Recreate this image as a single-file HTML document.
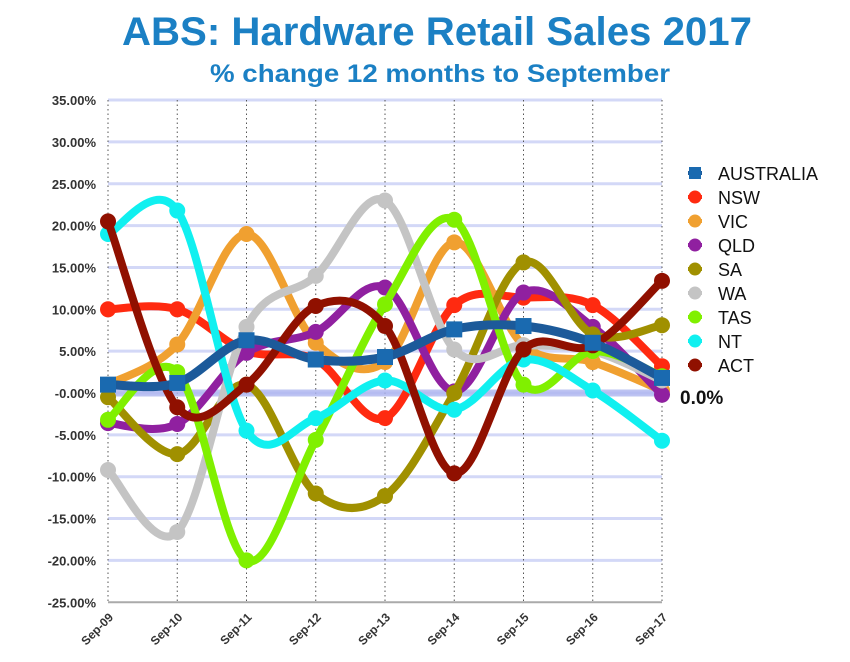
<!DOCTYPE html>
<html><head><meta charset="utf-8"><style>
body{margin:0;background:#fff;width:850px;height:662px;overflow:hidden}
svg{display:block;font-family:"Liberation Sans",sans-serif}
</style></head><body>
<svg id="s" width="850" height="662" xmlns="http://www.w3.org/2000/svg">
<text x="437" y="45" text-anchor="middle" font-size="40" font-weight="bold" fill="#1b80c4" textLength="630" lengthAdjust="spacingAndGlyphs">ABS: Hardware Retail Sales 2017</text>
<text x="440" y="82" text-anchor="middle" font-size="25" font-weight="bold" fill="#1b80c4" textLength="460" lengthAdjust="spacingAndGlyphs">% change  12 months to September</text>
<g id="g"></g>
<text x="680" y="404" font-size="19" font-weight="bold" fill="#111">0.0%</text>
</svg>
<script>
const g=document.getElementById('g');const NS='http://www.w3.org/2000/svg';
function el(t,a,txt){const e=document.createElementNS(NS,t);for(const k in a)e.setAttribute(k,a[k]);if(txt)e.textContent=txt;g.appendChild(e);return e;}
const X=i=>108+i*69.25, Y=v=>393-v*8.37;
for(let v=35;v>=-25;v-=5){const y=Y(v);
 if(v>-25)el('line',{x1:108,x2:662,y1:y,y2:y,stroke:'#d3d8f7','stroke-width':3});
 el('text',{x:96,y:y+5,'text-anchor':'end','font-size':13,'font-weight':'bold',fill:'#333'},(v==0?'-0.00':v.toFixed(2))+'%');}
el('line',{x1:108,x2:662,y1:Y(-25),y2:Y(-25),stroke:'#aaa','stroke-width':2});
const labs=['Sep-09','Sep-10','Sep-11','Sep-12','Sep-13','Sep-14','Sep-15','Sep-16','Sep-17'];
labs.forEach((l,i)=>{el('line',{x1:X(i),x2:X(i),y1:Y(35),y2:Y(-25),stroke:'#555','stroke-width':1,'stroke-dasharray':'1.5,3'});
 el('text',{x:X(i)+6,y:618,'text-anchor':'end','font-size':12,'font-weight':'bold',fill:'#333',transform:`rotate(-45 ${X(i)+6} 618)`},l);});
el('line',{x1:108,x2:662,y1:Y(0),y2:Y(0),stroke:'#aeb6f0','stroke-width':7,opacity:0.8});
const S=[
['NSW','#ff2a10',[10,10,5,4,-3,10.5,11.4,10.5,3.2]],
['VIC','#f0a030',[1,5.8,19,6,3.7,18,5.7,3.7,0.3]],
['QLD','#9020a0',[-3.6,-3.7,4.8,7.3,12.6,0.2,12,7.9,-0.2]],
['SA','#a09000',[-0.5,-7.3,1,-12,-12.3,0,15.6,7,8.1]],
['WA','#c4c4c4',[-9.2,-16.6,7.9,14,23,5.2,5.7,5,1.5]],
['TAS','#80f000',[-3.2,2.5,-20,-5.6,10.6,20.7,1,5,2]],
['NT','#10f0f0',[19,21.8,-4.5,-3,1.5,-2,4,0.3,-5.7]],
['ACT','#901000',[20.5,-1.7,1,10.4,8,-9.6,5.2,5.7,13.4]],
['AUSTRALIA','#1c5a9a',[1,1.2,6.3,4,4.3,7.6,8,6,1.8]]];
function path(d){const p=d.map((v,i)=>[X(i),Y(v)]);let s=`M${p[0]}`;
 for(let i=0;i<p.length-1;i++){const a=p[Math.max(0,i-1)],b=p[i],c=p[i+1],e=p[Math.min(p.length-1,i+2)];
 s+=`C${b[0]+(c[0]-a[0])/6},${b[1]+(c[1]-a[1])/6} ${c[0]-(e[0]-b[0])/6},${c[1]-(e[1]-b[1])/6} ${c[0]},${c[1]}`;}return s;}
S.forEach(([n,c,d])=>{const au=n=='AUSTRALIA';
 el('path',{d:path(d),fill:'none',stroke:c,'stroke-width':au?9:8,'stroke-linejoin':'round'});
 d.forEach((v,i)=>{if(au)el('rect',{x:X(i)-8,y:Y(v)-8,width:16,height:16,fill:'#1a6ab0'});else el('circle',{cx:X(i),cy:Y(v),r:8,fill:c});});});
const order=['AUSTRALIA','NSW','VIC','QLD','SA','WA','TAS','NT','ACT'];
order.forEach((n,k)=>{const c=S.find(s=>s[0]==n)[1];const y=173+k*24;
 el('line',{x1:688,x2:702,y1:y,y2:y,stroke:c,'stroke-width':4});
 if(n=='AUSTRALIA')el('rect',{x:689,y:y-6,width:12,height:12,fill:'#1a6ab0'});else el('circle',{cx:695,cy:y,r:6.5,fill:c});
 el('text',{x:718,y:y+7,'font-size':18,fill:'#111'},n);});
</script>
</body></html>
